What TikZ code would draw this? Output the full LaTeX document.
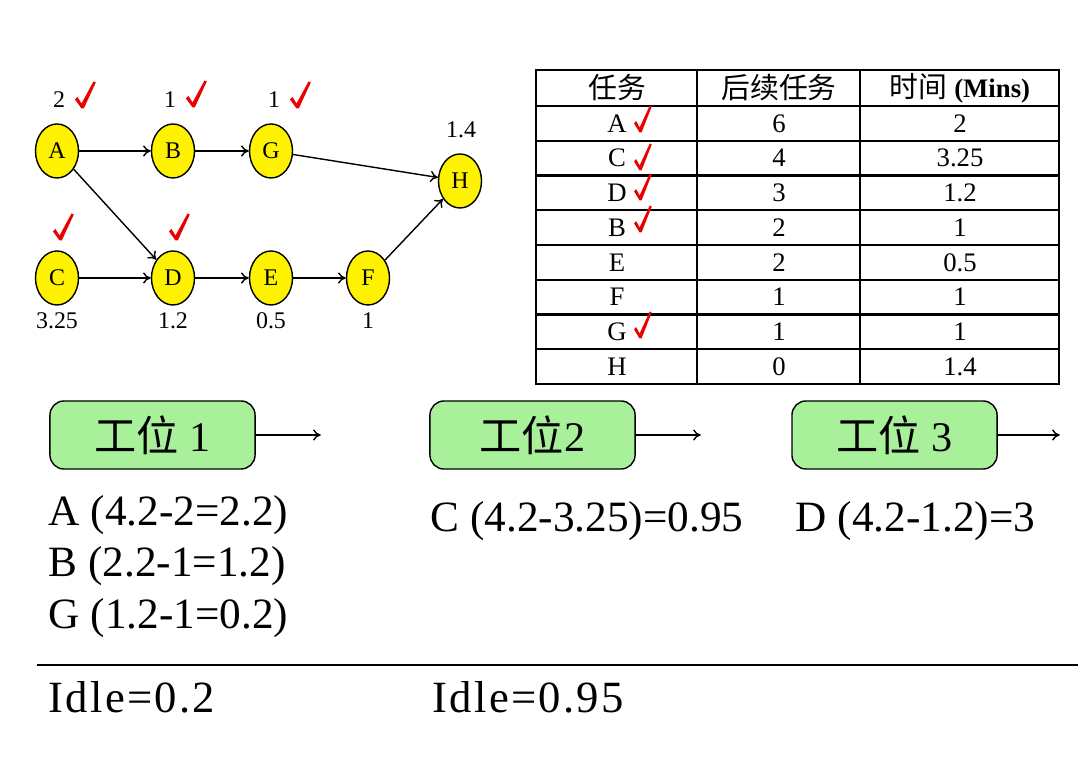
\documentclass[tikz,border=0pt]{standalone}
\usepackage{fontspec}
\setmainfont{Liberation Serif}
\newfontfamily\cjkfont{Noto Sans CJK SC}
\newfontfamily\idlefont[LetterSpace=5]{Liberation Serif}
\usepackage{xcolor}
\usepackage{tikz}
\usetikzlibrary{arrows.meta, positioning, shapes.geometric}

\definecolor{stationgreen}{RGB}{168,240,154}
\definecolor{tickred}{RGB}{235,0,0}

\begin{document}
\begin{tikzpicture}[x=0.01cm, y=-0.01cm,
        task/.style={draw, ellipse, fill=yellow, minimum width=0.43cm, minimum height=0.54cm, inner sep=0pt, font=\fontsize{6.8pt}{8pt}\selectfont},
        num/.style={inner sep=0pt, font=\fontsize{6.8pt}{8pt}\selectfont},
        flow/.style={-{To[length=2.2pt,width=3.2pt]}, line width=0.4pt},
        cell/.style={inner sep=0pt, font=\fontsize{7.6pt}{9pt}\selectfont},
        station/.style={draw, rounded corners=4pt, fill=stationgreen, minimum width=2.05cm, minimum height=0.68cm, font=\fontsize{12pt}{14pt}\selectfont},
        calcline/.style={anchor=west, inner sep=0pt, font=\fontsize{12.3pt}{14pt}\selectfont},
        idle/.style={anchor=west, inner sep=0pt, font=\idlefont\fontsize{12.7pt}{16pt}\selectfont},
        tick/.pic={\fill[tickred] (-7,-8.5) -- (-4.5,-11) -- (-0.5,-4.5) -- (11.5,-26.5) -- (13.8,-25.5) -- (1.8,0.5) -- (-0.5,0.5) -- cycle;}
    ]
    \useasboundingbox (0,0) rectangle (1080,768);

    % --- precedence graph ---
    \node[task] (A) at (57,151) {A};
    \node[task] (B) at (173,151) {B};
    \node[task] (G) at (271,151) {G};
    \node[task] (H) at (460,181) {H};
    \node[task] (C) at (57,278) {C};
    \node[task] (D) at (173,278) {D};
    \node[task] (E) at (271,278) {E};
    \node[task] (F) at (368,278) {F};

    \node[num] (wA) at (59,100) {2};
    \node[num] (wB) at (170,100) {1};
    \node[num] (wG) at (274,100) {1};
    \node[num] (wH) at (461,130) {1.4};
    \node[num] (wC) at (57,321) {3.25};
    \node[num] (wD) at (173,321) {1.2};
    \node[num] (wE) at (271,321) {0.5};
    \node[num] (wF) at (368,321) {1};

    \pic at (82,108) {tick};
    \pic at (193,107) {tick};
    \pic at (297,108) {tick};
    \pic at (60,240) {tick};
    \pic at (176,240) {tick};

    \draw[flow] (A) -- (B);
    \draw[flow] (B) -- (G);
    \draw[flow] (G) -- (H);
    \draw[flow] (A) -- (D);
    \draw[flow] (C) -- (D);
    \draw[flow] (D) -- (E);
    \draw[flow] (E) -- (F);
    \draw[flow] (F) -- (H);

    % --- task table ---
    \draw[line width=0.6pt] (536,70) rectangle (1059,384);
    \foreach \k in {0,...,7}
        \draw[line width=0.6pt] (536,{106+34.75*\k}) -- (1059,{106+34.75*\k});
    \draw[line width=0.6pt] (697,70) -- (697,384);
    \draw[line width=0.6pt] (860,70) -- (860,384);

    \node[cell] (h1) at (617,88) {\cjkfont\fontsize{8.2pt}{9pt}\selectfont 任务};
    \node[cell] (h2) at (779,88) {\cjkfont\fontsize{8.2pt}{9pt}\selectfont 后续任务};
    \node[cell] (h3) at (960,88) {{\cjkfont\fontsize{8.2pt}{9pt}\selectfont 时间} \textbf{(Mins)}};
    \foreach \t/\s/\m [count=\i from 0] in {A/6/2, C/4/3.25, D/3/1.2, B/2/1, E/2/0.5, F/1/1, G/1/1, H/0/1.4} {
        \node[cell] (t\t) at (617,{123.4+34.75*\i}) {\t};
        \node[cell] (s\t) at (779,{123.4+34.75*\i}) {\s};
        \node[cell] (m\t) at (960,{123.4+34.75*\i}) {\m};
    }
    \foreach \y in {132,170,200,232,338}
        \pic[xscale=0.85] at (640,\y) {tick};

    % --- stations ---
    \node[station] (s1) at (152.5,435) {{\cjkfont 工位} 1};
    \node[station] (s2) at (532.5,435) {{\cjkfont 工位}2};
    \node[station] (s3) at (894.5,435) {{\cjkfont 工位} 3};
    \coordinate[right=0.65cm of s1] (o1);
    \coordinate[right=0.65cm of s2] (o2);
    \coordinate[right=0.62cm of s3] (o3);
    \draw[flow] (s1) -- (o1);
    \draw[flow] (s2) -- (o2);
    \draw[flow] (s3) -- (o3);

    \node[calcline] (c1) at (48,515) {A (4.2-2=2.2)};
    \node[calcline] (c2) at (48,566) {B (2.2-1=1.2)};
    \node[calcline] (c3) at (48,618) {G (1.2-1=0.2)};
    \node[calcline] (c4) at (430,521) {C (4.2-3.25)=0.95};
    \node[calcline] (c5) at (795,521) {D (4.2-1.2)=3};

    % --- idle times ---
    \draw[line width=0.6pt] (37,665) -- (1078,665);
    \node[idle] (i1) at (48,697) {Idle=0.2};
    \node[idle] (i2) at (432,697) {Idle=0.95};

\end{tikzpicture}
\end{document}
